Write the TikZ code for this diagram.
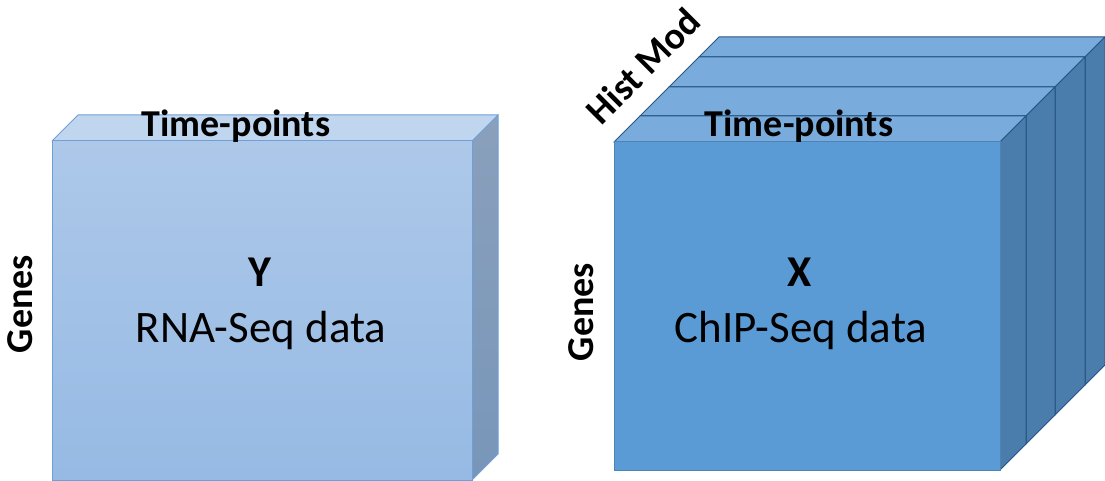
\documentclass[tikz,border=0pt]{standalone}
\usepackage{fontspec}
\setmainfont{Carlito}
\definecolor{yfront}{RGB}{173,200,233}
\definecolor{yfrontb}{RGB}{150,186,228}
\definecolor{ytop}{RGB}{192,214,238}
\definecolor{yside}{RGB}{138,160,188}
\definecolor{ysideb}{RGB}{120,150,185}
\definecolor{yline}{RGB}{110,160,215}
\definecolor{xfront}{RGB}{91,155,213}
\definecolor{xtop}{RGB}{121,172,220}
\definecolor{xside}{RGB}{74,124,172}
\definecolor{xline}{RGB}{40,85,130}
\tikzset{
  boldlbl/.style={font=\bfseries\fontsize{38}{40}\selectfont, inner sep=0pt},
  genlbl/.style={font=\bfseries\fontsize{38}{40}\selectfont, inner sep=0pt, rotate=90, anchor=base},
  namelbl/.style={font=\bfseries\fontsize{44}{46}\selectfont, inner sep=0pt, anchor=base},
  datalbl/.style={font=\fontsize{45}{47}\selectfont, inner sep=0pt, anchor=base},
}
\begin{document}
\begin{tikzpicture}[x=1pt,y=1pt]
    \useasboundingbox (0,0) rectangle (1105,-481);

    % Y cube (RNA-Seq)
    \coordinate (y1) at (52,-141); \coordinate (y2) at (472,-141);
    \coordinate (y3) at (472,-480); \coordinate (y4) at (52,-480);
    \coordinate (y5) at (78,-115); \coordinate (y6) at (498,-115); \coordinate (y7) at (498,-454);

    \fill[ytop] (y1)--(y5)--(y6)--(y2)--cycle;
    \shade[top color=yside, bottom color=ysideb] (y2)--(y6)--(y7)--(y3)--cycle;
    \shade[top color=yfront, bottom color=yfrontb] (y1)--(y2)--(y3)--(y4)--cycle;
    \draw[yline, line width=1pt] (y1)--(y5)--(y6)--(y2) (y6)--(y7)--(y3);
    \draw[yline, line width=1pt] (y1) rectangle (y3);

    \node[boldlbl, anchor=base] (ytime) at (236,-137) {Time-points};
    \node[genlbl] (ygenes) at (32,-304) {Genes};
    \node[namelbl] (yname) at (260,-286) {Y};
    \node[datalbl] (ydata) at (261,-342) {RNA-Seq data};

    % X cube (ChIP-Seq), four slices, drawn back to front
    \foreach \d/\e in {85/105, 55/85, 26/55, 0/26} {
        \fill[xtop, draw=xline, line width=1pt]
            (614+\d,-142+\d)--(614+\e,-142+\e)--(1000+\e,-142+\e)--(1000+\d,-142+\d)--cycle;
        \fill[xside, draw=xline, line width=1pt]
            (1000+\d,-142+\d)--(1000+\e,-142+\e)--(1000+\e,-470+\e)--(1000+\d,-470+\d)--cycle;
    }
    \coordinate (x1) at (614,-142); \coordinate (x3) at (1000,-470);
    \fill[xfront, draw=xfront!85!black, line width=1pt] (x1) rectangle (x3);

    \node[boldlbl, anchor=base] (xtime) at (799,-137) {Time-points};
    \node[boldlbl, rotate=45] (xhist) at (643,-66) {Hist Mod};
    \node[genlbl] (xgenes) at (593,-312) {Genes};
    \node[namelbl] (xname) at (800,-286) {X};
    \node[datalbl] (xdata) at (801,-342) {ChIP-Seq data};
\end{tikzpicture}
\end{document}
